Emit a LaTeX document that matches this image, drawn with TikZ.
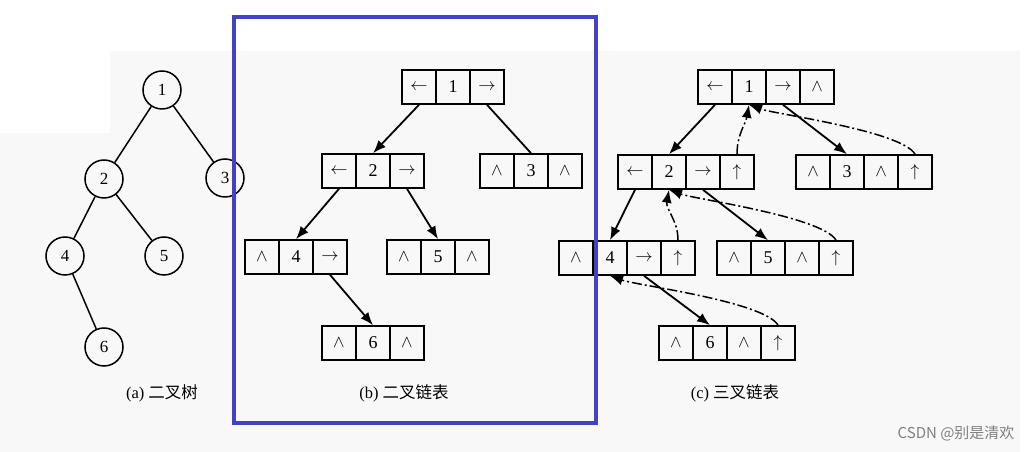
\documentclass[tikz,border=0pt]{standalone}
\usepackage{fontspec}
\setmainfont{Liberation Serif}
\newfontfamily\cjk{Noto Sans CJK SC}
\usetikzlibrary{arrows.meta}

\definecolor{frameblue}{RGB}{66,66,196}
\definecolor{bggray}{RGB}{248,248,248}

\tikzset{
  treenode/.style={draw, circle, minimum size=38pt, inner sep=0pt, line width=1.5pt, font=\fontsize{17}{17}\selectfont},
  cell/.style={draw, minimum width=34pt, minimum height=34pt, inner sep=0pt, line width=1.6pt, font=\fontsize{18}{18}\selectfont},
  childlink/.style={line width=1.8pt, -{Latex[length=13pt,width=10pt]}},
  parentlink/.style={line width=1.5pt, dash pattern=on 10pt off 3pt on 2pt off 3pt, -{Latex[length=13pt,width=10pt]}},
  captext/.style={font=\fontsize{16.5}{16.5}\selectfont},
}

% one row of cells, #1 name, #2 centre of first cell, #3 cell texts
\newcommand{\listnode}[3]{%
  \foreach \txt [count=\i] in {#3}
    \node[cell] (#1-\i) at (#2) [xshift={(\i-1)*34pt}] {\txt};
}

\begin{document}
\begin{tikzpicture}[x=1pt, y=1pt]
  \useasboundingbox (0,0) rectangle (1033,452);

  % Background
  \fill[bggray] (0,0) rectangle (1020,401);
  \fill[white] (0,319) rectangle (110,401);

  % (a) binary tree
  \node[treenode] (a1) at (162,362) {1};
  \node[treenode] (a2) at (104,273) {2};
  \node[treenode] (a3) at (225,274) {3};
  \node[treenode] (a4) at (65,196) {4};
  \node[treenode] (a5) at (164,196) {5};
  \node[treenode] (a6) at (104,105) {6};
  \draw[line width=1.5pt] (a1) -- (a2) (a1) -- (a3) (a2) -- (a4) (a2) -- (a5) (a4) -- (a6);
  \node[captext] (capa) at (162,59) {(a)\ {\cjk 二叉树}};

  % (b) binary linked list
  \listnode{b1}{419,365}{$\leftarrow$, 1, $\rightarrow$}
  \listnode{b2}{339,281}{$\leftarrow$, 2, $\rightarrow$}
  \listnode{b3}{497,281}{$\wedge$, 3, $\wedge$}
  \listnode{b4}{262,195}{$\wedge$, 4, $\rightarrow$}
  \listnode{b5}{404,195}{$\wedge$, 5, $\wedge$}
  \listnode{b6}{339,109}{$\wedge$, 6, $\wedge$}
  \draw[childlink] (b1-1.south) -- (b2-2.north);
  \draw[line width=1.8pt] (b1-3.south) -- (b3-2.north);
  \draw[childlink] (b2-1.south) -- (b4-2.north);
  \draw[childlink] (b2-3.south) -- (b5-2.north);
  \draw[childlink] (b4-3.south) -- (b6-2.north);
  \node[captext] (capb) at (404,59) {(b)\ {\cjk 二叉链表}};

  % (c) trinary linked list
  \listnode{c1}{715,365}{$\leftarrow$, 1, $\rightarrow$, $\wedge$}
  \listnode{c2}{635,280}{$\leftarrow$, 2, $\rightarrow$, $\uparrow$}
  \listnode{c3}{813,280}{$\wedge$, 3, $\wedge$, $\uparrow$}
  \listnode{c4}{576,194}{$\wedge$, 4, $\rightarrow$, $\uparrow$}
  \listnode{c5}{734,194}{$\wedge$, 5, $\wedge$, $\uparrow$}
  \listnode{c6}{676,109}{$\wedge$, 6, $\wedge$, $\uparrow$}
  \draw[childlink] (c1-1.south) -- (c2-2.north);
  \draw[childlink] (c1-3.south) -- (c3-2.north);
  \draw[childlink] (c2-1.south) -- (c4-2.north);
  \draw[childlink] (c2-3.south) -- (c5-2.north);
  \draw[childlink] (c4-3.south) -- (c6-2.north);
  % parent pointers
  \draw[parentlink] (c2-4.north) to[out=90, in=-100] (c1-2.south);
  \draw[parentlink] (c3-4.north) to[out=120, in=-20, looseness=0.4] (c1-2.south);
  \draw[parentlink] (c4-4.north) to[out=90, in=-100] (c2-2.south);
  \draw[parentlink] (c5-4.north) to[out=120, in=-20, looseness=0.4] (c2-2.south);
  \draw[parentlink] (c6-4.north) to[out=120, in=-20, looseness=0.4] (c4-2.south);
  \node[captext] (capc) at (735,59) {(c)\ {\cjk 三叉链表}};

  % Frame round (b)
  \draw[frameblue, line width=4pt] (234,29) rectangle (596,435);

  % Watermark
  \node[anchor=east, text=gray, font=\cjk\fontsize{15}{15}\selectfont] (mark) at (1018,19) {CSDN @别是清欢};
\end{tikzpicture}
\end{document}
